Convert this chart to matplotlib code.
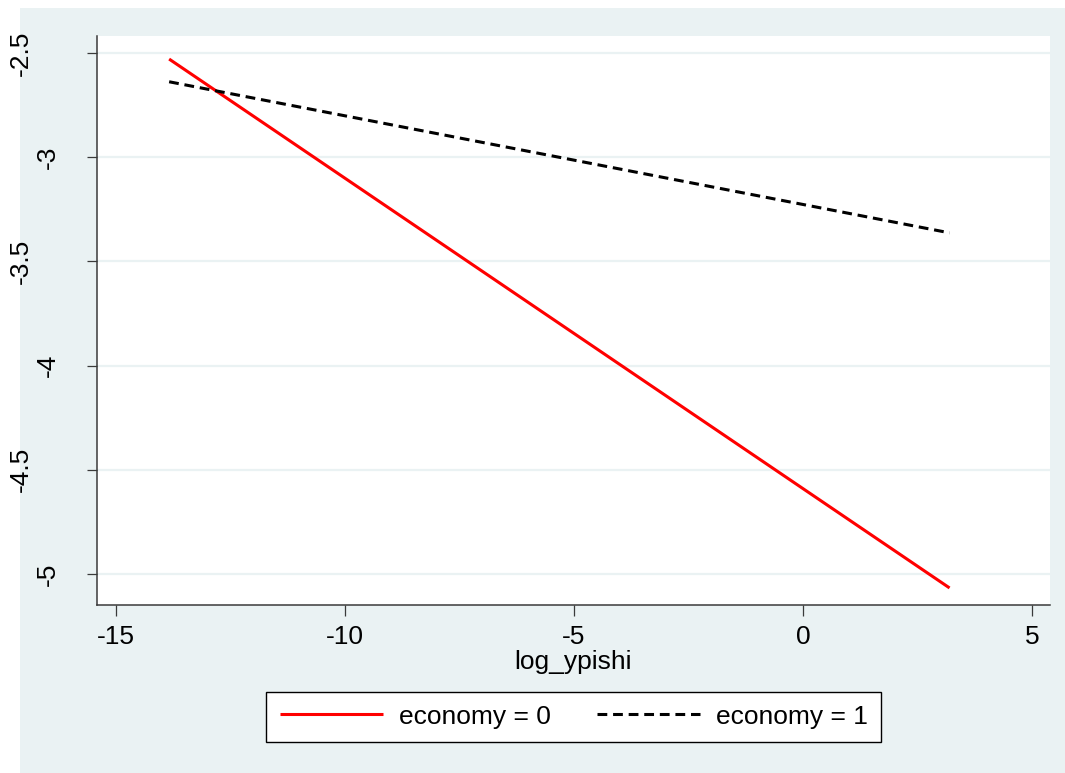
import matplotlib
matplotlib.use("Agg")
import matplotlib.pyplot as plt
from matplotlib.patches import Rectangle
from matplotlib.transforms import blended_transform_factory

plt.rcParams["font.family"] = ["Liberation Sans", "DejaVu Sans"]
plt.rcParams["axes.unicode_minus"] = False

# Fitted lines of the outcome against log_ypishi, by economy group
log_ypishi_range = [-13.84, 3.20]
fit_economy0 = [-2.529, -5.067]
fit_economy1 = [-2.638, -3.363]
series_labels = ["economy = 0", "economy = 1"]

x_ticks = [-15, -10, -5, 0, 5]
y_ticks = [-5, -4.5, -4, -3.5, -3, -2.5]
x_title = "log_ypishi"

W, H = 1065, 773
BG = "#EAF2F3"
AXIS_COLOR = "#3a3a3a"
FS = 19

fig = plt.figure(figsize=(W / 100, H / 100), dpi=100, facecolor="white")

# Stata-style graph region
fig.patches.append(Rectangle((20 / W, 0), 1 - 20 / W, 1 - 8 / H,
                             transform=fig.transFigure, facecolor=BG,
                             edgecolor="none", zorder=-10))

ax = fig.add_axes([97 / W, 1 - 605 / H, (1050 - 97) / W, (605 - 36) / H])
ax.set_facecolor("white")

ax.plot(log_ypishi_range, fit_economy0, color="#FF0000", lw=2.2,
        solid_capstyle="butt", label=series_labels[0], zorder=3)
ax.plot(log_ypishi_range, fit_economy1, color="black", lw=2.2,
        dashes=(3.2, 1.9), dash_capstyle="butt", label=series_labels[1],
        zorder=3)

ax.set_xlim(-15.415, 5.393)
ax.set_ylim(-5.1488, -2.4184)

ax.set_xticks(x_ticks)
ax.set_xticklabels([f"{v:g}" for v in x_ticks], fontsize=FS)
ax.set_yticks(y_ticks)
ax.set_yticklabels([])

for side in ("top", "right"):
    ax.spines[side].set_visible(False)
for side in ("left", "bottom"):
    ax.spines[side].set_color(AXIS_COLOR)
    ax.spines[side].set_linewidth(1.1)

ax.tick_params(axis="x", direction="out", length=7.9, width=0.9,
               color=AXIS_COLOR, pad=6.5, labelcolor="black")
ax.tick_params(axis="y", direction="out", length=7.2, width=0.9,
               color=AXIS_COLOR)

ax.grid(axis="y", color=BG, lw=1.6, zorder=1)
ax.grid(axis="x", visible=False)
ax.set_axisbelow(True)

# Rotated y tick labels placed in the left margin
trans = blended_transform_factory(fig.transFigure, ax.transData)
for v in y_ticks:
    txt = f"{v:g}"
    xpix = 47.5 if float(v).is_integer() else 21
    ax.text(xpix / W, v, txt, transform=trans, rotation=90,
            ha="center", va="center", fontsize=FS, color="black",
            clip_on=False)

ax.set_xlabel(x_title, fontsize=FS, labelpad=0.5)

leg = ax.legend(loc="center", bbox_to_anchor=((267.7 + 880) / 2 / W, 1 - 716.7 / H),
                bbox_transform=fig.transFigure, ncol=2, fontsize=FS,
                frameon=True, fancybox=False, edgecolor="black",
                handlelength=3.9, handletextpad=0.62, columnspacing=1.75,
                borderpad=0.5, borderaxespad=0)
leg.get_frame().set_linewidth(1.0)
leg.get_frame().set_facecolor("white")
leg.get_frame().set_alpha(1)

fig.savefig("out.png", dpi=100, facecolor="white")
